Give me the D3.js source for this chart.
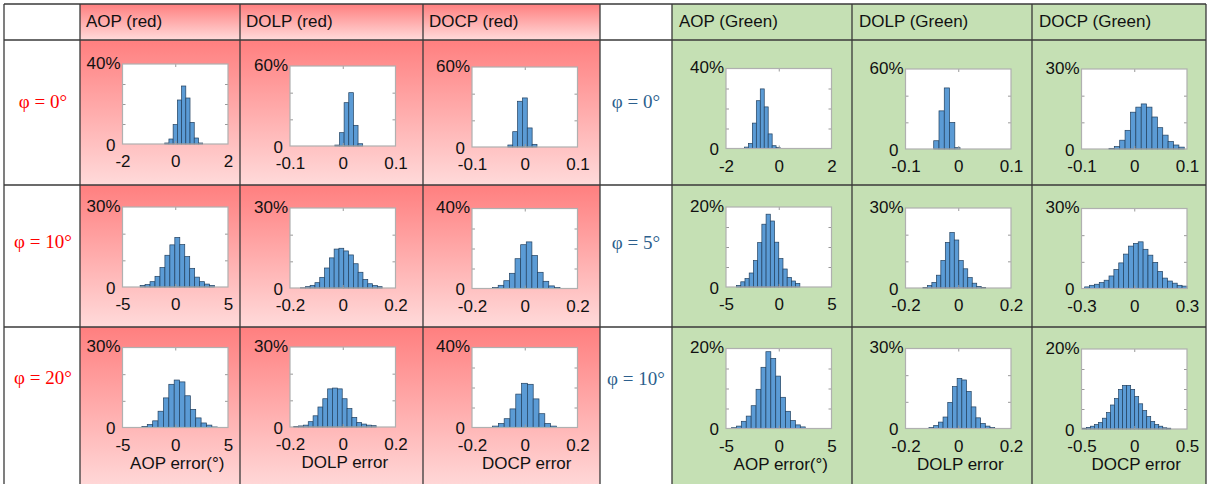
<!DOCTYPE html>
<html>
<head>
<meta charset="utf-8">
<script src="https://cdn.jsdelivr.net/npm/d3@7"></script>
<style>
  body { margin: 0; background: #fff; }
  svg { display: block; }
  text { font-family: 'Liberation Sans', Arial, sans-serif; }
</style>
</head>
<body>
<svg id="chart" width="1210" height="484"></svg>
<script>
// table text
const headersRed = ['AOP (red)', 'DOLP (red)', 'DOCP (red)'];
const headersGreen = ['AOP (Green)', 'DOLP (Green)', 'DOCP (Green)'];
const rowLabelsRed = ['φ = 0°', 'φ = 10°', 'φ = 20°'];
const rowLabelsGreen = ['φ = 0°', 'φ = 5°', 'φ = 10°'];
const xLabels = ['AOP error(°)', 'DOLP error', 'DOCP error'];

// x limits (symmetric) and y max (%) per row / column
const redXLim = [[2, 0.1, 0.1], [5, 0.2, 0.2], [5, 0.2, 0.2]];
const greenXLim = [[2, 0.1, 0.1], [5, 0.2, 0.3], [5, 0.2, 0.5]];
const redYMax = [[40, 60, 60], [30, 30, 40], [30, 30, 40]];
const greenYMax = [[40, 60, 30], [20, 30, 30], [20, 30, 20]];

// histogram bins: first edge and width
const redBinStart = [[-0.4, -0.015, -0.032], [-3.33, -0.16, -0.122], [-3.16, -0.186, -0.122]];
const redBinWidth = [[0.16, 0.0088, 0.0092], [0.47, 0.0182, 0.0213], [0.51, 0.0184, 0.022]];
const greenBinStart = [[-1.3, -0.0465, -0.048], [-4.0, -0.134, -0.282], [-4.48, -0.111, -0.49]];
const greenBinWidth = [[0.15, 0.01, 0.0102], [0.4, 0.017, 0.0277], [0.466, 0.0178, 0.038]];

// histogram heights (%)
const redAop0 = [0.5, 2.5, 9.7, 22, 29, 23, 10.8, 3, 0.5];
const redDolp0 = [0.7, 10, 32.5, 40, 15.5, 1.7];
const redDocp0 = [1.5, 11.5, 34.3, 36.8, 14.3, 2];
const redAop1 = [0.6, 0.9, 2.0, 4.0, 7.3, 11.9, 15.8, 18.6, 15.9, 11.4, 7.0, 3.7, 2.0, 1.1, 0.6];
const redDolp1 = [0.1, 0.5, 1.0, 2.0, 4.0, 7.5, 11.3, 14.6, 14.9, 13.9, 12.4, 9.1, 5.9, 3.2, 1.6, 0.9, 0.5];
const redDocp1 = [0.5, 1.6, 3.9, 7.6, 14.9, 21.9, 23.3, 16.5, 8.1, 3.6, 1.3, 0.5];
const redAop2 = [0.4, 1.1, 2.5, 6.1, 11.1, 16.2, 17.8, 17.1, 11.9, 6.8, 3.6, 1.7, 0.9, 0.2];
const redDolp2 = [0.2, 0.4, 0.7, 2.0, 4.2, 7.5, 10.6, 14.3, 14.6, 14.3, 10.6, 6.9, 3.6, 1.7, 1.1, 0.7, 0.5];
const redDocp2 = [0.7, 2.0, 4.4, 9.3, 16.7, 22.1, 21.6, 14.3, 6.9, 2.0, 0.7];

const greenAop0 = [0.7, 2.5, 12.7, 23.9, 29.8, 20.8, 7.3, 1.4, 0.5];
const greenDolp0 = [6.2, 28.6, 45.8, 19.9, 1];
const greenDocp0 = [0.25, 0.9, 3.3, 7.0, 13.8, 15.7, 16.9, 15.7, 12, 8, 5.2, 2.8, 1.5, 0.7];
const greenAop1 = [0.4, 1.3, 2.1, 3.5, 6.6, 11.1, 15.7, 18.2, 16.5, 11.2, 7.1, 4.5, 2.4, 1.5, 0.9];
const greenDolp1 = [0.2, 0.9, 2.1, 4.8, 10.3, 17.1, 20.8, 18, 10.3, 7.2, 3.9, 1.8, 0.6, 0.2];
const greenDocp1 = [0.6, 1.2, 1.6, 2.2, 3.1, 4.7, 7.1, 9.6, 12.9, 15.9, 16.9, 17.5, 14.7, 12.5, 9.8, 6.4, 3.9, 2.8, 2.0, 1.2, 0.9];
const greenAop2 = [0.2, 0.6, 1.8, 3.1, 5.7, 9.8, 15.3, 19.2, 17.5, 13.1, 7.8, 4.3, 2.0, 0.9, 0.4];
const greenDolp2 = [0.4, 1.1, 2.4, 4.3, 9.8, 15.7, 18.8, 18.2, 13.9, 8.1, 4.0, 1.9, 0.9, 0.4];
const greenDocp2 = [0.2, 0.4, 0.7, 1.1, 1.6, 2.7, 4.1, 6.0, 7.6, 9.9, 10.9, 10.9, 9.9, 8.1, 6.3, 4.6, 3.1, 1.9, 1.1, 0.7, 0.3, 0.2];

const redHist = [[redAop0, redDolp0, redDocp0], [redAop1, redDolp1, redDocp1], [redAop2, redDolp2, redDocp2]];
const greenHist = [[greenAop0, greenDolp0, greenDocp0], [greenAop1, greenDolp1, greenDocp1], [greenAop2, greenDolp2, greenDocp2]];

// layout
const gridX = [4, 80, 240, 423, 600, 672, 852, 1032, 1206];
const gridY = [4, 40, 185, 327];
const redCols = [80, 240, 423];
const greenCols = [672, 852, 1032];
const boxW = 105.5;
const boxH = 80;
const redBoxLeft = [122.5, 290, 472];
const greenBoxLeft = [726, 905.5, 1081.5];
const redBoxTop = [[64, 66, 67], [207, 208, 208.5], [347.5, 347, 347.5]];
const greenBoxTop = [[68.5, 69, 69], [207, 208, 208.5], [348.5, 348.5, 349]];

const svg = d3.select('#chart');

// backgrounds
const defs = svg.append('defs');
const fade = defs.append('linearGradient').attr('id', 'redFade')
  .attr('x1', 0).attr('y1', 0).attr('x2', 0).attr('y2', 1);
fade.append('stop').attr('offset', '0%').attr('stop-color', '#ff7f7f');
fade.append('stop').attr('offset', '100%').attr('stop-color', '#ffdada');

const rowBands = [[4, 40], [40, 185], [185, 327], [327, 490]];
rowBands.forEach(([y0, y1]) => {
  svg.append('rect').attr('x', 80).attr('y', y0).attr('width', 520).attr('height', y1 - y0)
    .attr('fill', 'url(#redFade)');
});
svg.append('rect').attr('x', 672).attr('y', 4).attr('width', 534).attr('height', 486)
  .attr('fill', '#c5e0b4');

// grid lines
gridY.forEach((y) => {
  svg.append('line').attr('x1', 4).attr('x2', 1206).attr('y1', y).attr('y2', y)
    .attr('stroke', '#3a3a3a').attr('stroke-width', 1.3);
});
gridX.forEach((x) => {
  svg.append('line').attr('x1', x).attr('x2', x).attr('y1', 4).attr('y2', 484)
    .attr('stroke', '#3a3a3a').attr('stroke-width', 1.3);
});

// headers
headersRed.forEach((t, i) => {
  svg.append('text').attr('x', redCols[i] + 6).attr('y', 27).attr('font-size', 17)
    .attr('fill', '#111').text(t);
});
headersGreen.forEach((t, i) => {
  svg.append('text').attr('x', greenCols[i] + 7).attr('y', 27).attr('font-size', 17)
    .attr('fill', '#111').text(t);
});

// row labels
const redLabelY = [101, 241, 377];
const greenLabelY = [101, 242, 378];
rowLabelsRed.forEach((t, i) => {
  svg.append('text').attr('x', 43).attr('y', redLabelY[i]).attr('dy', '0.35em')
    .attr('text-anchor', 'middle').attr('font-size', 19)
    .style('font-family', "'Liberation Serif', 'DejaVu Serif', serif")
    .attr('fill', '#ff0000').text(t);
});
rowLabelsGreen.forEach((t, i) => {
  svg.append('text').attr('x', 636).attr('y', greenLabelY[i]).attr('dy', '0.35em')
    .attr('text-anchor', 'middle').attr('font-size', 19)
    .style('font-family', "'Liberation Serif', 'DejaVu Serif', serif")
    .attr('fill', '#2c5f8d').text(t);
});

// one histogram panel
const drawPanel = (left, top, lim, yMax, start, width, heights, xLabel) => {
  const x = d3.scaleLinear().domain([-lim, lim]).range([left, left + boxW]);
  const y = d3.scaleLinear().domain([0, yMax]).range([top + boxH, top]);
  const g = svg.append('g');

  g.append('rect').attr('x', left).attr('y', top).attr('width', boxW).attr('height', boxH)
    .attr('fill', '#fff');

  g.selectAll('rect.bar')
    .data(heights)
    .join('rect')
    .attr('class', 'bar')
    .attr('x', (d, i) => x(start + i * width))
    .attr('width', (d, i) => x(start + (i + 1) * width) - x(start + i * width))
    .attr('y', d => y(d))
    .attr('height', d => y(0) - y(d))
    .attr('fill', '#5b9bd5')
    .attr('stroke', '#22405f')
    .attr('stroke-width', 0.7);

  // inner ticks on all four sides
  let step = 10;
  if (yMax === 20) step = 5;
  if (yMax === 60) step = 20;
  const minor = d3.range(step, yMax, step);
  const tickAxes = [
    [d3.axisRight(y).tickValues(minor), `translate(${left},0)`],
    [d3.axisLeft(y).tickValues(minor), `translate(${left + boxW},0)`],
    [d3.axisBottom(x).tickValues([0]), `translate(0,${top})`],
    [d3.axisTop(x).tickValues([0]), `translate(0,${top + boxH})`],
  ];
  tickAxes.forEach(([ax, tr]) => {
    const t = g.append('g').attr('transform', tr)
      .call(ax.tickSize(3).tickFormat(''));
    t.select('.domain').remove();
    t.selectAll('line').attr('stroke', '#9a9a9a');
  });

  g.append('rect').attr('x', left).attr('y', top).attr('width', boxW).attr('height', boxH)
    .attr('fill', 'none').attr('stroke', '#b0b0b0').attr('stroke-width', 1.2);

  // tick labels
  const xAxis = g.append('g').attr('transform', `translate(0,${top + boxH})`)
    .call(d3.axisBottom(x).tickValues([-lim, 0, lim]).tickSize(0).tickPadding(11)
      .tickFormat(d => String(d)));
  xAxis.select('.domain').remove();
  xAxis.attr('font-size', 17).attr('font-family', null).attr('color', '#111');

  const yAxis = g.append('g').attr('transform', `translate(${left},0)`)
    .call(d3.axisLeft(y).tickValues([0, yMax]).tickSize(0).tickPadding(3)
      .tickFormat(d => (d === 0 ? '0' : `${d}%`)));
  yAxis.select('.domain').remove();
  yAxis.attr('font-size', 17).attr('font-family', null).attr('color', '#111');
  yAxis.selectAll('text')
    .attr('x', d => (d === 0 ? -7 : -2))
    .attr('y', d => (d === 0 ? 1 : -1));

  if (xLabel) {
    g.append('text').attr('x', left + boxW / 2 + 2).attr('y', top + boxH + 41)
      .attr('text-anchor', 'middle').attr('font-size', 17).attr('fill', '#111')
      .text(xLabel);
  }
};

for (let r = 0; r < 3; r++) {
  for (let c = 0; c < 3; c++) {
    const lab = r === 2 ? xLabels[c] : null;
    drawPanel(redBoxLeft[c], redBoxTop[r][c], redXLim[r][c], redYMax[r][c],
      redBinStart[r][c], redBinWidth[r][c], redHist[r][c], lab);
    drawPanel(greenBoxLeft[c], greenBoxTop[r][c], greenXLim[r][c], greenYMax[r][c],
      greenBinStart[r][c], greenBinWidth[r][c], greenHist[r][c], lab);
  }
}
</script>
</body>
</html>
